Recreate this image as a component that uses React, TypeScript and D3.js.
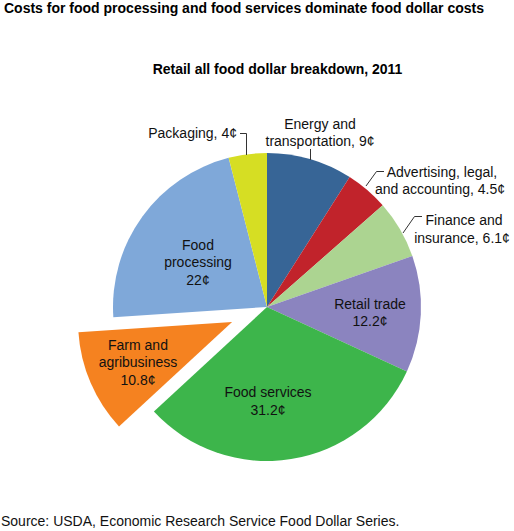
import React from "react";
import * as d3 from "d3";

const categories = [
  "Energy and transportation",
  "Advertising, legal, and accounting",
  "Finance and insurance",
  "Retail trade",
  "Food services",
  "Farm and agribusiness",
  "Food processing",
  "Packaging",
];
const values = [9, 4.5, 6.1, 12.2, 31.2, 10.8, 22, 4];
const colors = ["#376596", "#c1232b", "#acd491", "#8b84bf", "#3db54b", "#f58220", "#7fa8d9", "#d6de23"];
const exploded = [false, false, false, false, false, true, false, false];

const W = 514, H = 531;
const cx = 267, cy = 307, R = 154, explodeDist = 38;
const font = "Liberation Sans, Arial, Helvetica, sans-serif";

export default function App() {
  const pie = d3.pie<number>().sort(null).value((d) => d)(values);
  const arc = d3.arc<d3.PieArcDatum<number>>().innerRadius(0).outerRadius(R);
  const rows = pie.map((p, i) => ({ p, i }));
  return (
    <svg width={W} height={H} style={{ position: "absolute", left: 0, top: 0, background: "#fff" }}>
      <text x={4} y={13} fontFamily={font} fontWeight="bold" fontSize={14} fill="#000">
        Costs for food processing and food services dominate food dollar costs
      </text>
      <text x={277.5} y={74} textAnchor="middle" fontFamily={font} fontWeight="bold" fontSize={14} fill="#000">
        Retail all food dollar breakdown, 2011
      </text>
      <g transform={`translate(${cx},${cy})`}>
        {rows.map(({ p, i }) => {
          const mid = (p.startAngle + p.endAngle) / 2;
          const off = exploded[i] ? explodeDist : 0;
          const dx = Math.sin(mid) * off, dy = -Math.cos(mid) * off;
          return <path key={i} d={arc(p) || ""} fill={colors[i]} transform={`translate(${dx},${dy})`} />;
        })}
      </g>
      <g fontFamily={font} fontSize={14} fill="#111" textAnchor="middle">
        <text x={320} y={129}>Energy and</text>
        <text x={320} y={146}>transportation, {values[0]}¢</text>
        <line x1={310.5} y1={149} x2={310.5} y2={160} stroke="#333" strokeWidth={1} />
        <text x={237} y={138} textAnchor="end">Packaging, {values[7]}¢</text>
        <polyline points="240,133.5 246.5,133.5 246.5,155" fill="none" stroke="#333" strokeWidth={1} />
        <text x={442} y={177}>Advertising, legal,</text>
        <text x={440} y={194}>and accounting, {values[1]}¢</text>
        <polyline points="366,186 376.5,171.5 384,171.5" fill="none" stroke="#333" strokeWidth={1} />
        <text x={464} y={225}>Finance and</text>
        <text x={462} y={243}>insurance, {values[2]}¢</text>
        <polyline points="403,233 414.5,216.5 422,216.5" fill="none" stroke="#333" strokeWidth={1} />
        <text x={370} y={309}>Retail trade</text>
        <text x={370} y={326}>{values[3]}¢</text>
        <text x={268} y={397}>Food services</text>
        <text x={268} y={415}>{values[4]}¢</text>
        <text x={138} y={350}>Farm and</text>
        <text x={138} y={367}>agribusiness</text>
        <text x={138} y={385}>{values[5]}¢</text>
        <text x={198} y={250}>Food</text>
        <text x={198} y={267}>processing</text>
        <text x={198} y={285}>{values[6]}¢</text>
      </g>
      <text x={1} y={526} fontFamily={font} fontSize={14} fill="#111">
        Source: USDA, Economic Research Service Food Dollar Series.
      </text>
    </svg>
  );
}
